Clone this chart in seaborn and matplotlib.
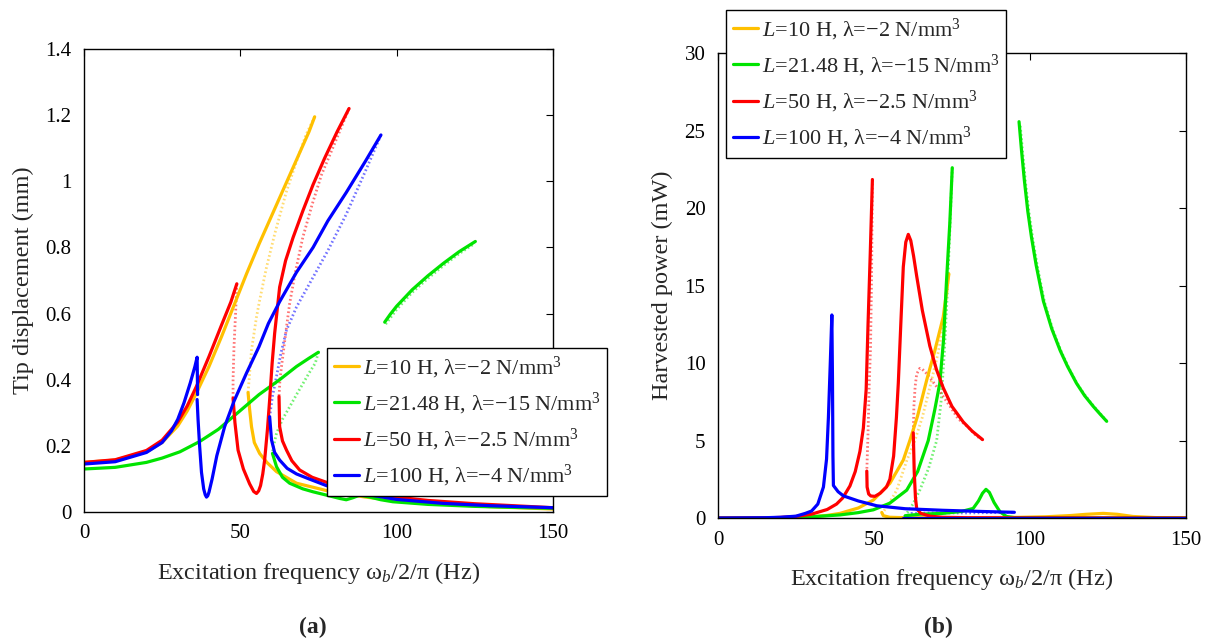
import matplotlib
matplotlib.use("Agg")
import matplotlib.pyplot as plt
import seaborn as sns
import pandas as pd
from matplotlib.lines import Line2D

sns.set_style("white")
plt.rcParams['font.family'] = ['Liberation Serif', 'DejaVu Serif']
plt.rcParams['mathtext.fontset'] = 'custom'
plt.rcParams['mathtext.rm'] = 'Liberation Serif'
plt.rcParams['mathtext.it'] = 'Liberation Serif:italic'
plt.rcParams['mathtext.bf'] = 'Liberation Serif:bold'

# ---------------- data ----------------
series_labels = [r'$L$=10 H, λ=−2 N/mm$^3$', r'$L$=21.48 H, λ=−15 N/mm$^3$',
                 r'$L$=50 H, λ=−2.5 N/mm$^3$', r'$L$=100 H, λ=−4 N/mm$^3$']
series_colors = ['#FFC000', '#00E400', '#FF0000', '#0000FF']

x_ticks = [0, 50, 100, 150]
a_yticks = [0, 0.2, 0.4, 0.6, 0.8, 1.0, 1.2, 1.4]
a_yticklabels = ['0', '0.2', '0.4', '0.6', '0.8', '1', '1.2', '1.4']
b_yticks = [0, 5, 10, 15, 20, 25, 30]
b_yticklabels = ['0', '5', '10', '15', '20', '25', '30']

# Panel (a): tip displacement (mm) vs frequency (Hz)
a_orange_up = [(0, 0.15), (10, 0.157), (20, 0.182), (25, 0.21), (30, 0.26), (33, 0.305), (36, 0.36), (40, 0.44),
               (44, 0.53), (48, 0.625), (52, 0.72), (56, 0.81), (60, 0.895), (64, 0.98), (68, 1.065), (72, 1.15), (73.8, 1.195)]
a_orange_dot = [(73.8, 1.195), (71, 1.14), (68, 1.06), (64.8, 0.97), (61, 0.84), (58.4, 0.74), (56.2, 0.64),
                (55.2, 0.59), (53.6, 0.49), (52.5, 0.361)]
a_orange_low = [(52.5, 0.361), (53, 0.31), (53.6, 0.258), (54.5, 0.21), (56.2, 0.177), (58.5, 0.15), (61.6, 0.122),
                (68, 0.087), (77.5, 0.065), (90, 0.045), (100, 0.035), (115, 0.024), (130, 0.016), (150, 0.009)]

a_green_up = [(0, 0.13), (10, 0.135), (20, 0.15), (25, 0.163), (30.7, 0.182), (37, 0.213), (43, 0.25), (49.8, 0.305),
              (56, 0.355), (62.6, 0.40), (68, 0.44), (72, 0.465), (75, 0.483)]
a_green_dot = [(75, 0.483), (74, 0.45), (72, 0.42), (70.1, 0.389), (68, 0.355), (65.8, 0.318), (63.5, 0.28),
               (61.6, 0.238), (60.6, 0.198), (60.3, 0.18)]
a_green_low = [(60.3, 0.177), (61.6, 0.137), (63.5, 0.105), (65.8, 0.087), (70, 0.07), (73.3, 0.061), (78, 0.05),
               (81.8, 0.041), (83.9, 0.037), (86, 0.043), (88.2, 0.051), (91, 0.046), (95, 0.037), (98.8, 0.031),
               (110, 0.023), (125, 0.017), (150, 0.011)]
a_green_iso = [(96.2, 0.574), (98, 0.598), (100, 0.622), (105, 0.672), (110, 0.714), (115, 0.752), (120, 0.787), (125.2, 0.818)]
a_green_iso_dot = [(96.5, 0.568), (100, 0.612), (105, 0.664), (110, 0.706), (115, 0.745), (120, 0.781), (125, 0.812)]

a_red_up = [(0, 0.15), (10, 0.158), (20, 0.186), (25, 0.217), (30, 0.272), (33, 0.32), (36, 0.38), (40, 0.47),
            (44, 0.565), (47, 0.635), (48.9, 0.69)]
a_red_dot1 = [(48.9, 0.69), (48.5, 0.6), (48, 0.5), (47.7, 0.4), (47.7, 0.344)]
a_red_mid = [(47.7, 0.344), (48.3, 0.27), (49.3, 0.187), (51, 0.13), (53, 0.085), (54.3, 0.062), (55.2, 0.056),
             (55.9, 0.064), (56.5, 0.08), (57.2, 0.115), (57.8, 0.157), (58.7, 0.25), (59.4, 0.339), (60.2, 0.45),
             (61, 0.54), (62.6, 0.68), (64.5, 0.76), (66.9, 0.83), (70, 0.91), (73.3, 0.99), (77, 1.07), (81, 1.15),
             (84.8, 1.22)]
a_red_dot2 = [(84.8, 1.22), (80, 1.11), (76, 1.02), (73, 0.93), (70, 0.83), (67.5, 0.72), (65.8, 0.63), (64.8, 0.56),
              (63.2, 0.44), (62.7, 0.40), (62.4, 0.349)]
a_red_low = [(62.4, 0.349), (62.6, 0.258), (63.5, 0.215), (64.8, 0.187), (66.5, 0.155), (69, 0.127), (73, 0.105),
             (77.5, 0.09), (85, 0.07), (95, 0.05), (110, 0.035), (125, 0.025), (150, 0.013)]

a_blue_up = [(0, 0.145), (10, 0.152), (20, 0.18), (25, 0.21), (28, 0.245), (30, 0.28), (32, 0.33), (34, 0.39),
             (35.5, 0.44), (36.2, 0.468), (36.3, 0.40), (36.35, 0.355)]
a_blue_mid = [(36.2, 0.34), (36.5, 0.28), (37, 0.2), (37.6, 0.12), (38.3, 0.07), (38.8, 0.052), (39.2, 0.045),
              (39.6, 0.049), (40, 0.06), (41, 0.1), (42.5, 0.17), (45, 0.258), (48, 0.335), (52, 0.42), (56, 0.5),
              (59, 0.57), (62.6, 0.636), (68, 0.725), (73.3, 0.80), (78, 0.88), (83.9, 0.966), (90, 1.06), (95, 1.14)]
a_blue_dot = [(95, 1.14), (90, 1.03), (83.9, 0.90), (78, 0.79), (73.3, 0.71), (68, 0.62), (64.8, 0.55), (63, 0.48),
              (61.6, 0.41), (60.3, 0.35), (59.4, 0.288)]
a_blue_low = [(59.4, 0.288), (60, 0.218), (61, 0.18), (62.6, 0.157), (65, 0.132), (68, 0.115), (72, 0.1), (77.5, 0.08),
              (85, 0.062), (100, 0.038), (115, 0.026), (130, 0.019), (150, 0.013)]

# Panel (b): harvested power (mW) vs frequency (Hz)
b_orange_up = [(0, 0), (20, 0.02), (30, 0.08), (35, 0.17), (39.1, 0.3), (45, 0.65), (49.8, 1.16), (55.1, 2.24),
               (59.4, 3.74), (61.5, 5.0), (64, 6.6), (66.9, 8.9), (69.5, 10.8), (72.2, 12.97), (74, 15.75)]
b_orange_dot = [(74, 15.75), (72.5, 12.8), (70.5, 10.6), (68, 8.5), (65.5, 6.5), (63.1, 5.0), (60.5, 3.7),
                (57.3, 1.8), (55, 1.0), (53, 0.4), (52.5, 0.36)]
b_orange_low = [(52.5, 0.36), (53, 0.15), (55, 0.05), (60, 0.02), (80, 0.02), (95, 0.04), (105, 0.08), (113, 0.16),
                (118, 0.24), (123.5, 0.3), (128, 0.24), (133, 0.1), (140, 0.03), (150, 0)]

b_green_up = [(0, 0), (20, 0.02), (30, 0.08), (39.1, 0.2), (45, 0.35), (49.8, 0.53), (55, 0.95), (60.5, 1.8),
              (64, 3.0), (67.4, 5.0), (69.5, 7.0), (71.1, 8.7), (72.3, 11.5), (73.2, 15.1), (74.3, 19), (75.1, 22.6)]
b_green_dot = [(75.1, 22.6), (74.4, 19), (73.5, 14.5), (72.5, 10.5), (71.5, 7.5), (70.1, 5.0), (67.5, 3.2),
               (64.7, 1.8), (62.5, 0.9), (60.5, 0.3)]
b_green_low = [(60, 0.15), (65, 0.25), (72, 0.3), (78, 0.42), (81.8, 0.62), (83.5, 1.1), (84.8, 1.6), (85.9, 1.85),
               (87, 1.65), (88.5, 1.0), (90.4, 0.4), (92.5, 0.1), (95, 0.03), (110, 0.01), (150, 0)]
b_green_iso = [(96.5, 25.57), (97.3, 23.7), (98.2, 21.8), (99.3, 19.8), (100.5, 18.1), (102, 16.3), (104.3, 14.0),
               (107, 12.2), (109.7, 10.8), (112, 9.8), (114.9, 8.7), (117.5, 7.9), (120.3, 7.2), (122.5, 6.7), (124.6, 6.24)]
b_green_iso_dot = [(96.9, 25.3), (97.7, 23.5), (98.6, 21.6), (99.7, 19.7), (100.9, 18.0), (102.4, 16.2),
                   (104.7, 13.9), (107.4, 12.1), (110.1, 10.7), (112.4, 9.7), (115.3, 8.6), (117.9, 7.85),
                   (120.7, 7.15), (122.9, 6.65), (124.8, 6.2)]

b_red_up = [(0, 0), (15, 0.01), (20, 0.04), (25, 0.1), (30, 0.25), (35, 0.55), (38, 0.9), (40, 1.3), (42.3, 2.07),
            (44, 3.0), (45.5, 4.3), (46.6, 5.8), (47.5, 8.3), (48.1, 12.5), (48.8, 17), (49.5, 21.84)]
b_red_dot1 = [(49.5, 21.84), (49.3, 17), (49.2, 15.1), (48.9, 11), (48.5, 8.7), (48.1, 5.5), (47.7, 3.03)]
b_red_mid = [(47.7, 3.03), (47.8, 2.0), (48.3, 1.55), (49, 1.42), (50.3, 1.4), (52, 1.6), (54, 2.0), (55.1, 2.5),
             (56.3, 4.0), (57.2, 6.5), (57.8, 8.7), (58.6, 12.5), (59.4, 16.2), (60.2, 17.8), (61, 18.3),
             (61.8, 17.9), (62.7, 16.9), (63.7, 15.6), (65.5, 13.4), (67.9, 11.1), (70, 9.6), (72.2, 8.4),
             (75, 7.2), (78.6, 6.2), (81.5, 5.6), (84.8, 5.06)]
b_red_dot2 = [(84.8, 5.06), (82.9, 5.28), (80, 5.9), (77, 6.4), (74.4, 7.2), (72, 7.9), (70, 8.5), (67, 9.3),
              (65.5, 9.6), (64.7, 9.66), (63.7, 9.3), (63.2, 8.5), (62.8, 7.2), (62.6, 5.5)]
b_red_low = [(62.6, 5.5), (62.9, 3.0), (63.3, 1.3), (63.7, 0.6), (65, 0.3), (68, 0.12), (72, 0.05), (80, 0.02),
             (100, 0.01), (150, 0)]

b_blue_up = [(0, 0), (15, 0.02), (20, 0.05), (25, 0.12), (28, 0.3), (30, 0.45), (32, 0.9), (33.8, 2.0), (34.8, 3.8),
             (35.4, 6.5), (36.0, 10), (36.5, 13.1), (36.7, 9), (36.85, 4), (37, 2.1), (38.5, 1.7), (40.2, 1.43),
             (45, 1.1), (50.9, 0.79), (60, 0.6), (72, 0.5), (85, 0.42), (95, 0.37)]
b_blue_dot = [(59.5, 0.05), (62, 0.3), (70, 0.33), (80, 0.33), (95, 0.37)]
b_blue_low = [(59.3, 0.0), (100, 0.0), (150, 0.0)]

# ---------------- plotting ----------------
ORANGE, GREEN, RED, BLUE = series_colors
SOLID_LW = 2.3


def draw(ax, pts, color, dotted=False):
    df = pd.DataFrame(pts, columns=['f', 'v'])
    if dotted:
        sns.lineplot(data=df, x='f', y='v', sort=False, estimator=None, ax=ax, color=color,
                     lw=2.0, linestyle=(0, (0.6, 0.9)), alpha=0.55, legend=False)
    else:
        sns.lineplot(data=df, x='f', y='v', sort=False, estimator=None, ax=ax, color=color,
                     lw=SOLID_LW, legend=False)


fig = plt.figure(figsize=(12.13, 6.42), dpi=100)
ax_a = fig.add_axes([0.0692, 0.2025, 0.3866, 0.7212])
ax_b = fig.add_axes([0.5919, 0.1931, 0.3858, 0.7243])

# panel a
for pts, c in [(a_orange_dot, ORANGE), (a_green_dot, GREEN), (a_green_iso_dot, GREEN),
               (a_red_dot1, RED), (a_red_dot2, RED), (a_blue_dot, BLUE)]:
    draw(ax_a, pts, c, dotted=True)
for pts, c in [(a_orange_up, ORANGE), (a_orange_low, ORANGE),
               (a_green_up, GREEN), (a_green_low, GREEN), (a_green_iso, GREEN),
               (a_red_up, RED), (a_red_mid, RED), (a_red_low, RED),
               (a_blue_up, BLUE), (a_blue_mid, BLUE), (a_blue_low, BLUE)]:
    draw(ax_a, pts, c)

# panel b
for pts, c in [(b_orange_dot, ORANGE), (b_green_dot, GREEN), (b_green_iso_dot, GREEN),
               (b_red_dot1, RED), (b_red_dot2, RED), (b_blue_dot, BLUE)]:
    draw(ax_b, pts, c, dotted=True)
for pts, c in [(b_orange_up, ORANGE), (b_orange_low, ORANGE),
               (b_green_up, GREEN), (b_green_low, GREEN), (b_green_iso, GREEN),
               (b_red_up, RED), (b_red_mid, RED), (b_red_low, RED),
               (b_blue_up, BLUE), (b_blue_low, BLUE)]:
    draw(ax_b, pts, c)

for ax, ylim, yt, ytl, ylab in [(ax_a, (0, 1.4), a_yticks, a_yticklabels, 'Tip displacement (mm)'),
                                (ax_b, (0, 30), b_yticks, b_yticklabels, 'Harvested power (mW)')]:
    ax.set_xlim(0, 150)
    ax.set_ylim(*ylim)
    ax.set_xticks(x_ticks)
    ax.set_xticklabels([str(t) for t in x_ticks])
    ax.set_yticks(yt)
    ax.set_yticklabels(ytl)
    ax.tick_params(direction='in', top=True, right=True, length=5, width=0.8,
                   labelsize=15, colors='black')
    ax.tick_params(axis='y', pad=9)
    ax.tick_params(axis='x', pad=9)
    for s in ax.spines.values():
        s.set_color('black')
        s.set_linewidth(1.0)
    ax.set_xlabel('Excitation frequency ω$_{b}$/2/π (Hz)', fontsize=17.5, labelpad=12)
    ax.set_ylabel(ylab, fontsize=17.5, labelpad=8)

handles = [Line2D([0], [0], color=c, lw=SOLID_LW) for c in series_colors]
leg_kw = dict(loc='upper left', bbox_transform=fig.transFigure, fontsize=16, frameon=True,
              fancybox=False, framealpha=1, edgecolor='black', handlelength=1.15,
              handletextpad=0.15, labelspacing=0.45, borderpad=0.3, borderaxespad=0)
la = ax_a.legend(handles, series_labels, bbox_to_anchor=(327 / 1213, 1 - 348 / 642), **leg_kw)
lb = ax_b.legend(handles, series_labels, bbox_to_anchor=(726 / 1213, 1 - 10 / 642), **leg_kw)
for lg in (la, lb):
    lg.get_frame().set_linewidth(1.0)

fig.text(313 / 1213, 1 - 627 / 642, '(a)', ha='center', va='center', fontsize=17, fontweight='bold')
fig.text(938 / 1213, 1 - 627 / 642, '(b)', ha='center', va='center', fontsize=17, fontweight='bold')

fig.savefig('out.png', dpi=100)
